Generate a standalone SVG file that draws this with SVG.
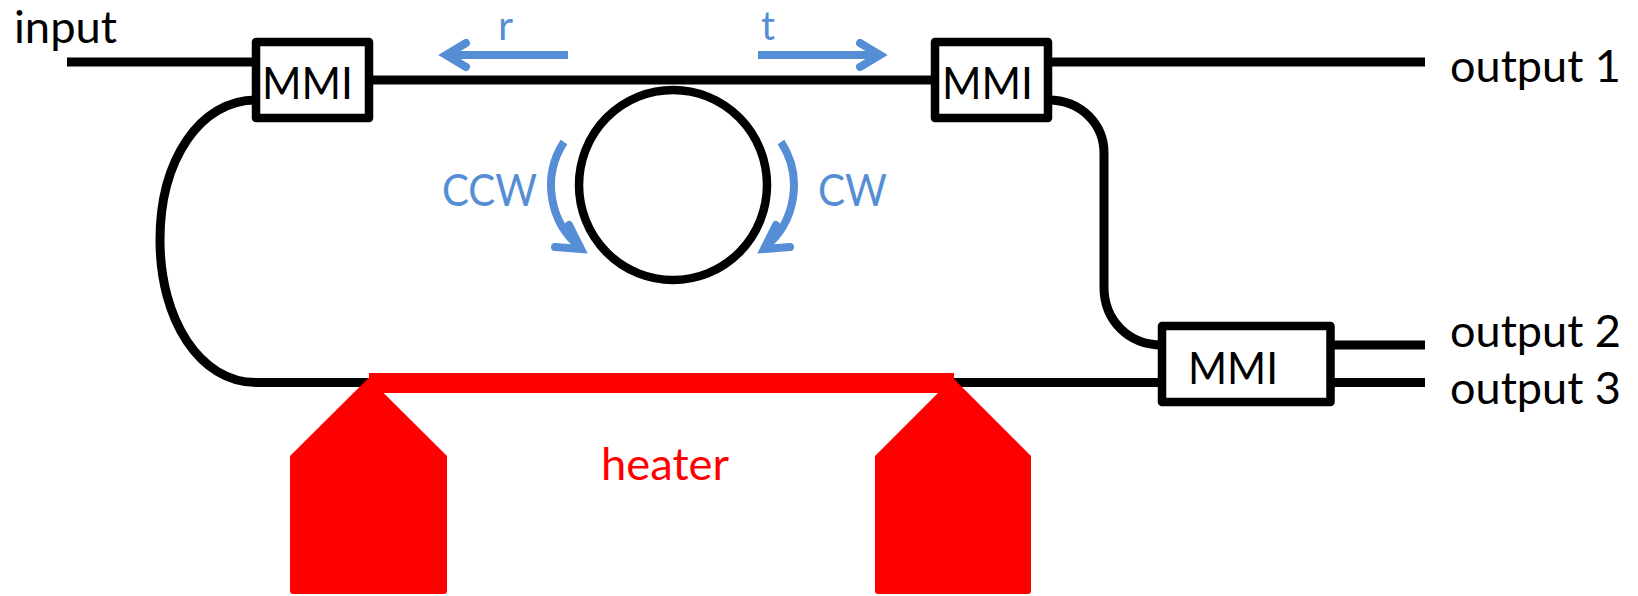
<svg xmlns="http://www.w3.org/2000/svg" width="1638" height="596" viewBox="0 0 1638 596">
<style>
.t{font-family:Lato,"Liberation Sans",sans-serif;font-size:44px;fill:#000}
.b{fill:#558ed5}
.s{font-size:40px}
.r{fill:#ff0000}
.wg{fill:none;stroke:#000;stroke-width:9}
.blue{fill:none;stroke:#558ed5;stroke-width:8}
.box{fill:#fff;stroke:#000;stroke-width:8.5;stroke-linejoin:round}
</style>
<rect width="1638" height="596" fill="#fff"/>
<g id="connectors">
<path class="wg" d="M67 62H256"/>
<path class="wg" d="M369 80H935"/>
<path class="wg" d="M1048 62H1425"/>
<path class="wg" d="M256 100C200 100 160 160 160 240C160 320 200 382.500 256 382.500H1162"/>
<path class="wg" d="M1048 100C1082 100 1104 125 1104 153V287C1104 320 1128 345 1162 345"/>
<path class="wg" d="M1330 345H1425"/>
<path class="wg" d="M1330 382.500H1425"/>
</g>
<g id="arrows">
<path class="blue" d="M568 55H446"/>
<path class="blue" stroke-linecap="round" d="M466 43L446 55L466 67"/>
<path class="blue" d="M758 55H880"/>
<path class="blue" stroke-linecap="round" d="M860 43L880 55L860 67"/>
<path class="blue" d="M564 142A80 80 0 0 0 581 248"/>
<path class="blue" stroke-linecap="round" d="M569 225L581 249L555 247"/>
<path class="blue" d="M781 142A80 80 0 0 1 764 248"/>
<path class="blue" stroke-linecap="round" d="M776 225L764 249L790 247"/>
</g>
<g id="ring"><ellipse cx="673" cy="185" rx="94" ry="95" fill="none" stroke="#000" stroke-width="8.500"/></g>
<g id="mmi1"><rect class="box" x="256" y="42" width="113" height="76"/><text class="t" x="262" y="99" textLength="91" lengthAdjust="spacingAndGlyphs">MMI</text></g>
<g id="mmi2"><rect class="box" x="935" y="42" width="113" height="76"/><text class="t" x="942" y="99" textLength="91" lengthAdjust="spacingAndGlyphs">MMI</text></g>
<g id="mmi3"><rect class="box" x="1162" y="326" width="168.500" height="76"/><text class="t" x="1188" y="384" textLength="90" lengthAdjust="spacingAndGlyphs">MMI</text></g>
<g id="heater">
<rect class="r" x="369" y="373" width="585" height="20"/>
<path class="r" d="M368.500 378L447 456V591Q447 594 444 594H293Q290 594 290 591V456Z"/>
<path class="r" d="M953 378L1031 456V591Q1031 594 1028 594H878Q875 594 875 591V456Z"/>
<text class="t r" x="601" y="480" textLength="128" lengthAdjust="spacingAndGlyphs">heater</text>
</g>
<g id="labels">
<text class="t" x="14" y="43" textLength="103" lengthAdjust="spacingAndGlyphs">input</text>
<text class="t" x="1450" y="82" textLength="171" lengthAdjust="spacingAndGlyphs">output 1</text>
<text class="t" x="1450" y="347" textLength="171" lengthAdjust="spacingAndGlyphs">output 2</text>
<text class="t" x="1450" y="404" textLength="171" lengthAdjust="spacingAndGlyphs">output 3</text>
<text class="t b s" x="498" y="39.500" textLength="15" lengthAdjust="spacingAndGlyphs">r</text>
<text class="t b s" x="761" y="39.500" textLength="14" lengthAdjust="spacingAndGlyphs">t</text>
<text class="t b" x="442" y="206" textLength="95" lengthAdjust="spacingAndGlyphs">CCW</text>
<text class="t b" x="818" y="206" textLength="69" lengthAdjust="spacingAndGlyphs">CW</text>
</g>
</svg>
